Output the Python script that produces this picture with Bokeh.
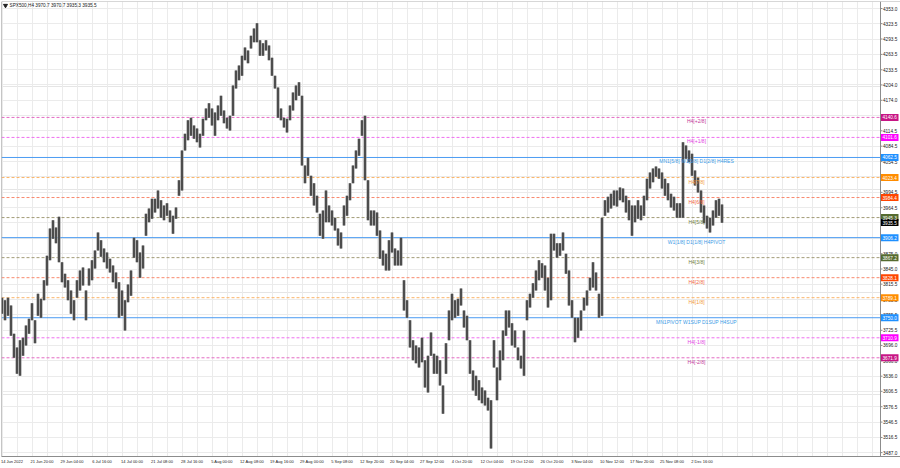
from bokeh.plotting import figure
from bokeh.models import (Range1d, LinearAxis, FixedTicker, Span, ColumnDataSource, Grid)
from bokeh.embed import file_html
from bokeh.resources import INLINE
from bokeh.core.properties import value

# ---------------- data ----------------
header_text = "SPX500,H4  3970.7 3970.7 3935.3 3935.5"

bar_high = [
    3789, 3784, 3789, 3774, 3719, 3692, 3706, 3711, 3735, 3748,
    3778, 3745, 3797, 3787, 3823, 3871, 3924, 3940, 3926, 3947,
    3858, 3836, 3823, 3803, 3784, 3823, 3842, 3848, 3803, 3846,
    3862, 3881, 3916, 3901, 3885, 3877, 3865, 3852, 3838, 3819,
    3803, 3784, 3815, 3842, 3906, 3901, 3877, 3891, 3953, 3963,
    3982, 3982, 3998, 3979, 3969, 3973, 3959, 3949, 3965, 4018,
    4076, 4109, 4135, 4140, 4125, 4119, 4109, 4138, 4158, 4168,
    4158, 4150, 4164, 4183, 4154, 4140, 4144, 4203, 4232, 4242,
    4261, 4277, 4271, 4300, 4314, 4324, 4291, 4285, 4291, 4281,
    4257, 4222, 4199, 4158, 4140, 4138, 4164, 4189, 4203, 4209,
    4183, 4047, 4062, 4027, 4012, 3988, 3953, 3959, 3998, 3969,
    3959, 3945, 3924, 3916, 3969, 3988, 4012, 4047, 4076, 4099,
    4135, 4144, 4018, 3959, 3959, 3955, 3920, 3881, 3875, 3901,
    3916, 3885, 3881, 3906, 3823, 3784, 3745, 3706, 3696, 3692,
    3711, 3667, 3676, 3721, 3680, 3676, 3667, 3618, 3700, 3764,
    3797, 3784, 3787, 3807, 3764, 3754, 3706, 3647, 3637, 3628,
    3614, 3608, 3594, 3589, 3706, 3653, 3686, 3725, 3764, 3764,
    3739, 3725, 3692, 3676, 3725, 3784, 3797, 3817, 3842, 3862,
    3856, 3852, 3828, 3914, 3914, 3895, 3895, 3916, 3875, 3842,
    3784, 3750, 3750, 3764, 3789, 3803, 3828, 3858, 3838, 3797,
    3945, 3979, 3986, 3992, 3998, 3998, 4004, 4002, 3988, 3979,
    3969, 3969, 3979, 3969, 3988, 4021, 4033, 4041, 4045, 4041,
    4033, 4021, 4012, 3992, 3986, 3973, 3973, 4092, 4086, 4076,
    4070, 4037, 4023, 3998, 3969, 3949, 3945, 3959, 3979, 3982,
    3970.7,
]
bar_low = [
    3758, 3745, 3754, 3715, 3672, 3641, 3637, 3676, 3696, 3719,
    3745, 3700, 3754, 3750, 3784, 3813, 3862, 3904, 3895, 3858,
    3819, 3809, 3784, 3758, 3745, 3789, 3803, 3813, 3745, 3813,
    3823, 3846, 3881, 3869, 3858, 3846, 3838, 3819, 3807, 3750,
    3754, 3725, 3780, 3793, 3867, 3858, 3828, 3846, 3910, 3936,
    3943, 3955, 3963, 3945, 3940, 3949, 3936, 3914, 3943, 3988,
    3998, 4076, 4096, 4105, 4099, 4092, 4082, 4105, 4135, 4140,
    4125, 4105, 4135, 4144, 4129, 4119, 4115, 4144, 4197, 4213,
    4222, 4252, 4246, 4275, 4287, 4287, 4261, 4261, 4271, 4252,
    4222, 4197, 4140, 4135, 4121, 4111, 4135, 4154, 4174, 4183,
    4047, 4012, 4027, 3988, 3969, 3955, 3910, 3904, 3936, 3936,
    3930, 3920, 3891, 3885, 3930, 3949, 3979, 4012, 4041, 4066,
    4105, 4018, 3940, 3930, 3930, 3910, 3865, 3852, 3842, 3842,
    3877, 3852, 3852, 3852, 3764, 3750, 3692, 3667, 3661, 3653,
    3663, 3614, 3604, 3676, 3641, 3641, 3618, 3563, 3641, 3706,
    3745, 3750, 3754, 3774, 3731, 3706, 3641, 3608, 3598, 3589,
    3583, 3579, 3569, 3495, 3653, 3589, 3628, 3667, 3715, 3731,
    3696, 3692, 3667, 3651, 3637, 3745, 3770, 3789, 3803, 3823,
    3828, 3803, 3770, 3784, 3881, 3867, 3871, 3881, 3836, 3774,
    3750, 3702, 3711, 3725, 3764, 3774, 3803, 3809, 3803, 3750,
    3754, 3949, 3955, 3963, 3969, 3967, 3979, 3975, 3955, 3940,
    3910, 3936, 3943, 3940, 3949, 3979, 4002, 4014, 4025, 4021,
    4002, 3988, 3979, 3965, 3959, 3945, 3945, 3945, 4060, 4053,
    4027, 4008, 3994, 3955, 3934, 3924, 3916, 3930, 3945, 3949,
    3935.3,
]

date_labels = ["14 Jun 2022", "21 Jun 20:00", "29 Jun 04:00", "6 Jul 16:00", "14 Jul 00:00",
               "21 Jul 08:00", "28 Jul 16:00", "5 Aug 00:00", "12 Aug 08:00", "19 Aug 16:00",
               "29 Aug 00:00", "5 Sep 08:00", "12 Sep 20:00", "20 Sep 04:00", "27 Sep 12:00",
               "4 Oct 20:00", "12 Oct 04:00", "19 Oct 12:00", "26 Oct 20:00", "3 Nov 04:00",
               "10 Nov 12:00", "17 Nov 20:00", "25 Nov 08:00", "2 Dec 16:00"]

price_ticks = [4353.0, 4323.5, 4293.5, 4263.5, 4233.5, 4204.0, 4174.0, 4144.0, 4114.5, 4084.5,
               4054.5, 4024.5, 3994.5, 3964.5, 3935.0, 3905.0, 3875.0, 3845.0, 3815.5, 3785.5,
               3755.5, 3725.5, 3696.0, 3666.0, 3636.0, 3606.5, 3576.5, 3546.5, 3516.5, 3487.0]

level_prices = [4140.6, 4101.6, 4062.5, 4023.4, 3984.4, 3945.3, 3906.2,
                3867.2, 3828.1, 3789.1, 3750.0, 3710.9, 3671.9]
level_names = ["H4[+2/8]", "H4[+1/8]", "MN1[5/8] W1[5/8] D1[2/8] H4RES", "H4[7/8]", "H4[6/8]",
               "H4[5/8]", "W1[1/8] D1[1/8] H4PIVOT", "H4[3/8]", "H4[2/8]", "H4[1/8]",
               "MN1PIVOT W1SUP D1SUP H4SUP", "H4[-1/8]", "H4[-2/8]"]
last_price = 3935.5

# ---------------- styles ----------------
lvl_line_color = ["#e46cc4", "#f070f0", "#4c9cf2", "#fbb56a", "#f98a6e", "#a39c78", "#4c9cf2",
                  "#a39c78", "#f98a6e", "#fbb56a", "#4c9cf2", "#f070f0", "#e46cc4"]
lvl_dash = ["3 2", "3 2", "solid", "3 2", "3 2", "3 2", "solid",
            "3 2", "3 2", "3 2", "solid", "3 2", "3 2"]
lvl_text_color = ["#c2389a", "#e23ee2", "#3d9be6", "#f29a3a", "#f2683e", "#6f7d3c", "#3d9be6",
                  "#6f7d3c", "#f2683e", "#f29a3a", "#3d9be6", "#e23ee2", "#c2389a"]
lvl_bg = ["#c71585", "#ff00ff", "#1e90ff", "#ff8c00", "#ff4500", "#556b2f", "#1e90ff",
          "#556b2f", "#ff4500", "#ff8c00", "#1e90ff", "#ff00ff", "#c71585"]

FONT = value("Liberation Sans")
PX = 3.0                      # one bar column = 3 screen px
x0 = -0.5 / PX                # left edge of frame
x_chart_end = x0 + 879 / PX   # right border of the chart area (price scale starts here)
x1 = x0 + 899 / PX            # right edge of canvas
y_top, y_bot = 4366.65, 3479.4
PPX = (y_top - y_bot) / 455.0  # price per screen px

p = figure(width=900, height=468, output_backend="svg", toolbar_location=None,
           x_range=Range1d(x0, x1), y_range=Range1d(y_bot, y_top),
           x_axis_location=None, y_axis_location=None,
           min_border_left=1, min_border_top=1, min_border_right=0, min_border_bottom=12,
           background_fill_color="white", border_fill_color="white",
           outline_line_color=None)

# grids (chart area only)
p.add_layout(Grid(dimension=0, ticker=FixedTicker(ticks=[5 * k for k in range(59)]),
                  grid_line_color="#ebebeb", grid_line_width=1))
p.add_layout(Grid(dimension=1, ticker=FixedTicker(ticks=price_ticks),
                  grid_line_color="#ebebeb", grid_line_width=1))

# bottom time axis
tick_pos = [10 * k + 10.0 / PX for k in range(len(date_labels))]
xax = LinearAxis(ticker=FixedTicker(ticks=tick_pos),
                 major_label_overrides={t: lab for t, lab in zip(tick_pos, date_labels)},
                 axis_line_color="#8c8c8c", major_tick_out=0, major_tick_in=0,
                 minor_tick_line_color=None, major_label_standoff=2,
                 major_label_text_font="Liberation Sans", major_label_text_font_size="4px",
                 major_label_text_color="#202020")
p.add_layout(xax, "below")

# level lines (chart area only)
for i, ds in enumerate(lvl_dash):
    p.segment(x0=x0, y0=level_prices[i], x1=x_chart_end, y1=level_prices[i],
              line_color=lvl_line_color[i], line_dash=ds, line_width=1)

# bars
src = ColumnDataSource(dict(x=list(range(len(bar_high))), high=bar_high, low=bar_low))
p.vbar(x="x", top="high", bottom="low", width=1.0, fill_color="#8f8f8f", line_color=None, source=src)
p.segment(x0="x", y0="high", x1="x", y1="low", line_color="#2a2a2a", line_width=1.3, source=src)

# level texts
lsrc = ColumnDataSource(dict(x=[x0 + 695 / PX] * len(level_prices), y=level_prices,
                             t=level_names, c=lvl_text_color))
p.text(x="x", y="y", text="t", text_color="c", source=lsrc, text_align="center", text_baseline="top",
       text_font=FONT, text_font_size="5px", y_offset=1)

# price scale area (white panel, border, ticks, labels)
p.quad(left=[x_chart_end], right=[x1 + 1], top=[y_top + 5], bottom=[y_bot - 5],
       fill_color="white", line_color=None)
p.add_layout(Span(location=x_chart_end, dimension="height", line_color="#8c8c8c", line_width=1))
p.add_layout(Span(location=x0, dimension="height", line_color="#8c8c8c", line_width=1))
p.add_layout(Span(location=y_top, dimension="width", line_color="#b0b0b0", line_width=1))
p.segment(x0=[x_chart_end] * len(price_ticks), y0=price_ticks,
          x1=[x_chart_end + 2 / PX] * len(price_ticks), y1=price_ticks, line_color="#8c8c8c")
p.text(x=[x_chart_end + 2.5 / PX] * len(price_ticks), y=price_ticks,
       text=[f"{v:.1f}" for v in price_ticks], text_color="#202020", text_font=FONT,
       text_font_size="4.7px", text_align="left", text_baseline="middle")

# coloured level price boxes
box_y = level_prices + [last_price]
box_c = lvl_bg + ["#000000"]
p.quad(left=[x_chart_end + 0.5 / PX] * len(box_y), right=[x_chart_end + 18 / PX] * len(box_y),
       top=[v + 3.5 * PPX for v in box_y], bottom=[v - 3.5 * PPX for v in box_y],
       fill_color=box_c, line_color=None)
p.text(x=[x_chart_end + 2 / PX] * len(box_y), y=box_y, text=[f"{v:.1f}" for v in box_y],
       text_color="white", text_font=FONT, text_font_size="4.7px",
       text_align="left", text_baseline="middle")

# header
p.scatter(x=[x0 + 4 / PX], y=[y_top - 4 * PPX], marker="inverted_triangle", size=4, color="#202020")
p.text(x=[x0 + 8 / PX], y=[y_top - 1.5 * PPX], text=[header_text], text_color="#202020",
       text_font=FONT, text_font_size="4.7px", text_align="left", text_baseline="top")

open("out.html", "w").write(file_html(p, INLINE))
